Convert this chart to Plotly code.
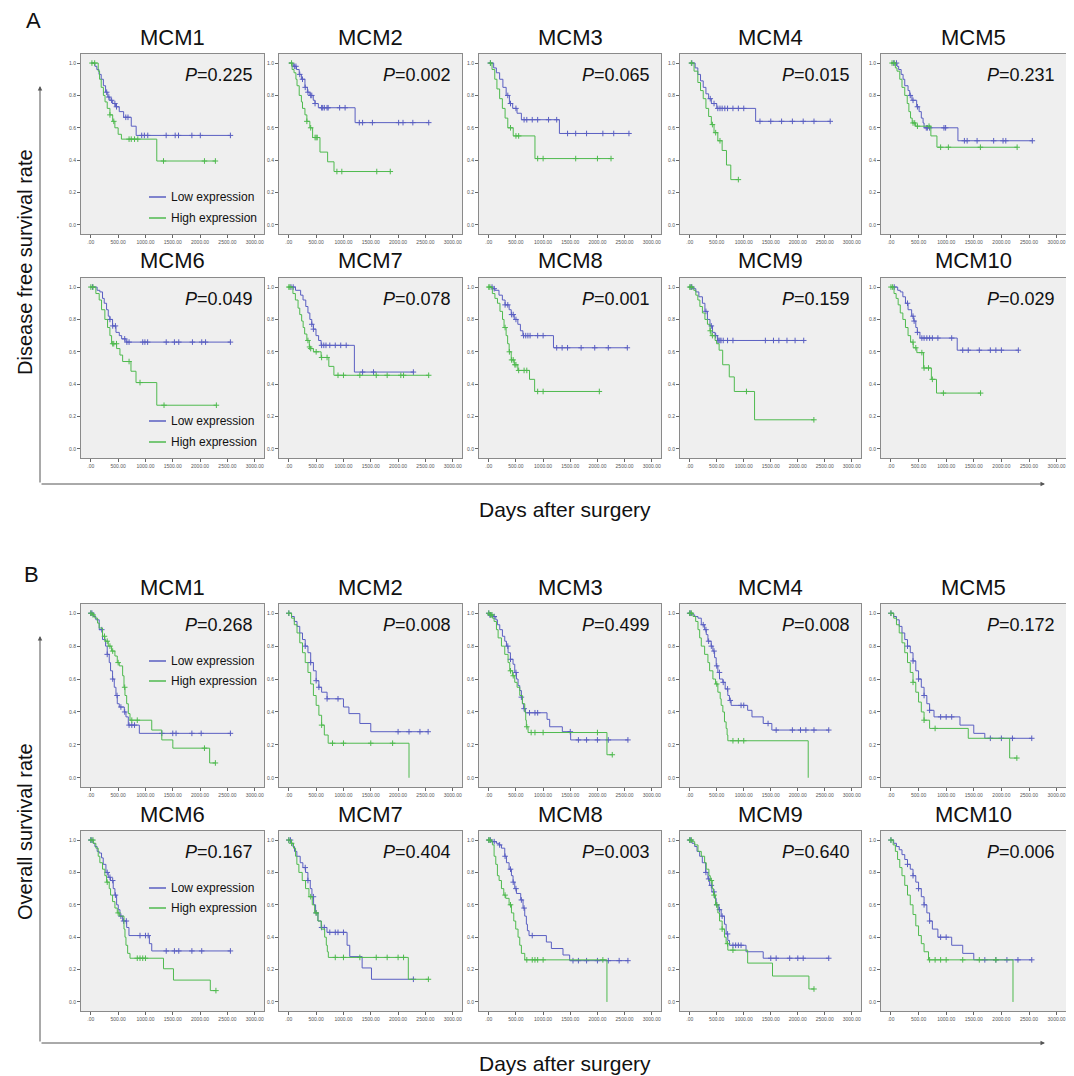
import numpy as np
import plotly.graph_objects as go

# page is rendered with an 8px body margin; the figure is sized/positioned to compensate
OFF = 8
W, H = 1074 - OFF, 1076 - OFF
FONT = "Liberation Sans, Arial, sans-serif"
BLUE = "#5a5fc2"
GREEN = "#4fba4f"

genes = ["MCM1", "MCM2", "MCM3", "MCM4", "MCM5", "MCM6", "MCM7", "MCM8", "MCM9", "MCM10"]
dfs_p = ["0.225", "0.002", "0.065", "0.015", "0.231", "0.049", "0.078", "0.001", "0.159", "0.029"]
os_p = ["0.268", "0.008", "0.499", "0.008", "0.172", "0.167", "0.404", "0.003", "0.640", "0.006"]
x_ticks = [0, 500, 1000, 1500, 2000, 2500, 3000]
x_tick_labels = [".00", "500.00", "1000.00", "1500.00", "2000.00", "2500.00", "3000.00"]
y_ticks = [0.0, 0.2, 0.4, 0.6, 0.8, 1.0]
y_tick_labels = ["0.0", "0.2", "0.4", "0.6", "0.8", "1.0"]
legend_labels = ["Low expression", "High expression"]

# ---- Disease free survival (A): [day, survival after drop]; censor days ----
dfs1_low = [[75, 0.98], [110, 0.96], [150, 0.93], [190, 0.90], [230, 0.86], [270, 0.82], [310, 0.79], [350, 0.77], [400, 0.75], [450, 0.73], [520, 0.70], [600, 0.665], [740, 0.61], [830, 0.553]]
dfs1_low_cens = [290, 330, 380, 440, 470, 640, 680, 931, 980, 1042, 1379, 1544, 1605, 1850, 2004, 2555]
dfs1_high = [[135, 0.95], [160, 0.90], [190, 0.85], [230, 0.80], [260, 0.76], [300, 0.72], [350, 0.68], [400, 0.64], [440, 0.60], [500, 0.56], [560, 0.53], [1207, 0.395]]
dfs1_high_cens = [20, 70, 350, 420, 700, 740, 800, 860, 1330, 2080, 2280]

dfs2_low = [[80, 0.98], [140, 0.96], [190, 0.93], [230, 0.90], [295, 0.85], [340, 0.82], [385, 0.80], [447, 0.77], [480, 0.75], [540, 0.724], [1213, 0.632]]
dfs2_low_cens = [100, 130, 200, 250, 300, 350, 400, 420, 480, 600, 620, 650, 700, 720, 930, 1030, 1290, 1350, 1530, 2010, 2090, 2270, 2561]
dfs2_high = [[60, 0.96], [95, 0.94], [130, 0.90], [150, 0.86], [190, 0.80], [230, 0.76], [250, 0.72], [295, 0.68], [330, 0.64], [385, 0.60], [435, 0.54], [570, 0.45], [710, 0.39], [827, 0.33]]
dfs2_high_cens = [50, 330, 400, 480, 500, 520, 880, 970, 1610, 1857]

dfs3_low = [[90, 0.97], [140, 0.94], [200, 0.90], [260, 0.85], [320, 0.80], [380, 0.75], [440, 0.72], [520, 0.69], [600, 0.65], [1300, 0.565]]
dfs3_low_cens = [30, 350, 400, 500, 650, 700, 800, 900, 1100, 1250, 1450, 1600, 1800, 2100, 2300, 2580]
dfs3_high = [[60, 0.96], [110, 0.90], [150, 0.84], [200, 0.78], [250, 0.72], [300, 0.66], [350, 0.60], [450, 0.55], [850, 0.41]]
dfs3_high_cens = [30, 400, 500, 550, 900, 1000, 1600, 2000, 2250]

dfs4_low = [[100, 0.97], [150, 0.93], [200, 0.89], [250, 0.85], [300, 0.81], [350, 0.78], [400, 0.75], [500, 0.72], [1220, 0.64]]
dfs4_low_cens = [40, 380, 450, 520, 560, 600, 650, 700, 800, 900, 1000, 1300, 1500, 1700, 1900, 2100, 2300, 2600]
dfs4_high = [[80, 0.95], [150, 0.88], [200, 0.83], [250, 0.78], [300, 0.72], [350, 0.67], [400, 0.62], [450, 0.57], [520, 0.52], [600, 0.46], [680, 0.37], [760, 0.28]]
dfs4_high_cens = [30, 420, 480, 560, 900]

dfs5_low = [[110, 0.98], [140, 0.96], [185, 0.93], [220, 0.90], [250, 0.86], [310, 0.83], [340, 0.80], [380, 0.77], [466, 0.73], [510, 0.70], [550, 0.66], [582, 0.63], [600, 0.60], [1213, 0.52]]
dfs5_low_cens = [50, 100, 350, 400, 480, 640, 660, 700, 960, 990, 1330, 1380, 1560, 1860, 2030, 2080, 2560]
dfs5_high = [[80, 0.97], [110, 0.95], [160, 0.90], [200, 0.85], [250, 0.80], [295, 0.75], [325, 0.70], [355, 0.66], [385, 0.63], [447, 0.61], [723, 0.55], [833, 0.48]]
dfs5_high_cens = [20, 60, 400, 430, 480, 690, 900, 1040, 1620, 2285]

dfs6_low = [[115, 0.98], [165, 0.97], [214, 0.93], [245, 0.90], [288, 0.86], [319, 0.82], [349, 0.80], [398, 0.76], [460, 0.72], [521, 0.70], [564, 0.68], [643, 0.66]]
dfs6_low_cens = [30, 350, 400, 450, 620, 660, 700, 950, 990, 1040, 1380, 1530, 1610, 1860, 2030, 2100, 2555]
dfs6_high = [[92, 0.96], [153, 0.92], [196, 0.86], [257, 0.80], [306, 0.75], [349, 0.70], [380, 0.65], [472, 0.62], [533, 0.58], [582, 0.54], [735, 0.48], [827, 0.41], [1207, 0.27]]
dfs6_high_cens = [0, 40, 400, 420, 470, 700, 900, 1340, 2298]

dfs7_low = [[122, 0.98], [216, 0.95], [260, 0.92], [310, 0.88], [350, 0.84], [385, 0.80], [420, 0.77], [450, 0.74], [497, 0.70], [545, 0.67], [591, 0.64], [1200, 0.475]]
dfs7_low_cens = [40, 80, 420, 450, 600, 640, 680, 750, 850, 950, 1050, 1350, 1550, 2280]
dfs7_high = [[75, 0.96], [120, 0.92], [169, 0.87], [200, 0.83], [235, 0.79], [262, 0.75], [290, 0.71], [330, 0.67], [375, 0.63], [400, 0.62], [450, 0.60], [591, 0.565], [732, 0.51], [825, 0.455]]
dfs7_high_cens = [0, 20, 350, 380, 400, 500, 600, 700, 900, 1000, 1300, 1600, 1800, 2050, 2100, 2560]

dfs8_low = [[65, 0.99], [113, 0.98], [188, 0.95], [250, 0.92], [300, 0.89], [375, 0.86], [413, 0.83], [469, 0.80], [535, 0.77], [582, 0.73], [628, 0.70], [1191, 0.625]]
dfs8_low_cens = [60, 100, 300, 350, 420, 450, 500, 640, 680, 720, 760, 900, 1000, 1250, 1350, 1450, 1700, 1950, 2200, 2550]
dfs8_high = [[66, 0.96], [113, 0.93], [160, 0.90], [206, 0.85], [253, 0.80], [281, 0.75], [319, 0.70], [347, 0.65], [375, 0.60], [413, 0.55], [469, 0.52], [535, 0.485], [750, 0.43], [844, 0.355]]
dfs8_high_cens = [0, 20, 300, 380, 420, 450, 480, 500, 550, 650, 700, 900, 1000, 2035]

dfs9_low = [[47, 0.99], [113, 0.97], [169, 0.94], [235, 0.90], [281, 0.85], [328, 0.80], [375, 0.76], [422, 0.72], [469, 0.70], [516, 0.67]]
dfs9_low_cens = [20, 40, 300, 400, 480, 520, 540, 560, 580, 620, 700, 800, 1400, 1550, 1650, 1800, 1950, 2110]
dfs9_high = [[75, 0.98], [113, 0.95], [150, 0.92], [188, 0.88], [235, 0.84], [281, 0.80], [328, 0.77], [375, 0.73], [394, 0.70], [469, 0.67], [497, 0.65], [544, 0.61], [610, 0.52], [732, 0.445], [825, 0.355], [1200, 0.18]]
dfs9_high_cens = [0, 30, 380, 420, 1050, 2298]

dfs10_low = [[122, 0.98], [169, 0.97], [216, 0.94], [263, 0.90], [310, 0.86], [375, 0.82], [413, 0.79], [450, 0.75], [478, 0.72], [525, 0.685], [1200, 0.61]]
dfs10_low_cens = [60, 300, 400, 420, 480, 560, 600, 650, 700, 750, 850, 1100, 1300, 1400, 1600, 1800, 1900, 2000, 2307]
dfs10_high = [[56, 0.96], [94, 0.93], [131, 0.89], [169, 0.84], [216, 0.80], [263, 0.75], [310, 0.70], [356, 0.66], [403, 0.625], [469, 0.595], [591, 0.50], [732, 0.43], [825, 0.345]]
dfs10_high_cens = [0, 30, 400, 450, 560, 600, 680, 750, 950, 1623]

# ---- Overall survival (B) ----
os1_low = [[43, 0.98], [92, 0.96], [153, 0.90], [214, 0.84], [270, 0.80], [300, 0.75], [337, 0.70], [361, 0.65], [398, 0.60], [429, 0.55], [460, 0.50], [484, 0.45], [521, 0.43], [613, 0.40], [643, 0.37], [686, 0.32], [888, 0.27]]
os1_low_cens = [0, 20, 200, 300, 400, 480, 550, 620, 700, 750, 800, 1300, 1500, 1560, 1850, 2020, 2555]
os1_high = [[31, 0.99], [74, 0.97], [123, 0.94], [153, 0.91], [214, 0.86], [257, 0.83], [319, 0.80], [380, 0.77], [441, 0.74], [484, 0.70], [521, 0.68], [582, 0.62], [607, 0.55], [625, 0.50], [656, 0.45], [686, 0.39], [717, 0.35], [1115, 0.29], [1299, 0.23], [1501, 0.18], [2175, 0.09]]
os1_high_cens = [0, 40, 250, 300, 350, 400, 500, 620, 750, 850, 2080, 2280]

os2_low = [[50, 0.98], [100, 0.95], [150, 0.92], [200, 0.88], [250, 0.84], [300, 0.80], [350, 0.76], [400, 0.70], [450, 0.65], [500, 0.59], [550, 0.55], [600, 0.52], [700, 0.48], [1000, 0.43], [1100, 0.39], [1300, 0.33], [1500, 0.28]]
os2_low_cens = [0, 300, 400, 500, 550, 700, 900, 2000, 2200, 2400, 2550]
os2_high = [[50, 0.97], [100, 0.93], [150, 0.88], [200, 0.82], [250, 0.76], [300, 0.70], [350, 0.64], [400, 0.57], [450, 0.50], [500, 0.44], [550, 0.38], [600, 0.32], [650, 0.26], [720, 0.21], [2200, 0.0]]
os2_high_cens = [0, 600, 800, 1000, 1500, 1900]

os3_low = [[18, 0.99], [80, 0.98], [129, 0.96], [159, 0.93], [202, 0.90], [251, 0.86], [294, 0.83], [325, 0.80], [355, 0.76], [398, 0.72], [447, 0.69], [478, 0.64], [509, 0.60], [539, 0.56], [570, 0.53], [600, 0.49], [619, 0.45], [643, 0.42], [674, 0.395], [1072, 0.355], [1121, 0.31], [1354, 0.28], [1507, 0.23]]
os3_low_cens = [0, 20, 40, 100, 350, 400, 500, 600, 650, 750, 850, 900, 1500, 1650, 1800, 2000, 2200, 2561]
os3_high = [[18, 0.99], [67, 0.97], [98, 0.95], [141, 0.90], [172, 0.85], [233, 0.80], [294, 0.75], [355, 0.70], [386, 0.65], [435, 0.62], [478, 0.58], [521, 0.55], [570, 0.50], [619, 0.45], [662, 0.40], [680, 0.35], [692, 0.31], [723, 0.275], [2175, 0.14]]
os3_high_cens = [0, 30, 60, 400, 450, 700, 780, 850, 1000, 2000, 2273]

os4_low = [[31, 0.99], [92, 0.98], [153, 0.97], [214, 0.93], [276, 0.90], [306, 0.87], [337, 0.83], [398, 0.80], [429, 0.77], [460, 0.73], [490, 0.68], [521, 0.64], [551, 0.60], [613, 0.58], [656, 0.54], [705, 0.50], [735, 0.47], [766, 0.44], [1072, 0.41], [1152, 0.37], [1360, 0.33], [1520, 0.29]]
os4_low_cens = [0, 20, 250, 300, 350, 400, 450, 500, 550, 620, 700, 750, 950, 1000, 1450, 1600, 1900, 2050, 2150, 2300, 2573]
os4_high = [[61, 0.98], [110, 0.95], [153, 0.90], [184, 0.85], [214, 0.80], [276, 0.75], [337, 0.70], [368, 0.65], [429, 0.60], [478, 0.57], [521, 0.52], [564, 0.48], [582, 0.44], [613, 0.40], [643, 0.34], [674, 0.30], [692, 0.26], [705, 0.225], [2193, 0.0]]
os4_high_cens = [0, 30, 500, 800, 900, 1000]

os5_low = [[50, 0.98], [100, 0.96], [150, 0.92], [200, 0.88], [250, 0.84], [300, 0.80], [350, 0.76], [400, 0.71], [450, 0.65], [500, 0.60], [550, 0.55], [600, 0.50], [650, 0.45], [700, 0.41], [780, 0.37], [1250, 0.32], [1500, 0.27], [1700, 0.24]]
os5_low_cens = [0, 300, 400, 500, 600, 700, 900, 1000, 1100, 1800, 2000, 2200, 2550]
os5_high = [[50, 0.97], [100, 0.93], [150, 0.88], [200, 0.82], [250, 0.76], [300, 0.70], [350, 0.64], [400, 0.58], [450, 0.52], [500, 0.46], [550, 0.40], [600, 0.35], [700, 0.30], [1400, 0.24], [2150, 0.12]]
os5_high_cens = [0, 400, 600, 800, 2280]

os6_low = [[43, 0.98], [74, 0.96], [116, 0.93], [153, 0.92], [196, 0.89], [227, 0.85], [276, 0.80], [319, 0.77], [361, 0.75], [410, 0.70], [441, 0.66], [472, 0.60], [502, 0.57], [533, 0.53], [582, 0.50], [656, 0.46], [698, 0.41], [1072, 0.36], [1115, 0.315]]
os6_low_cens = [0, 20, 300, 350, 400, 450, 550, 600, 650, 900, 1000, 1050, 1380, 1530, 1610, 1850, 2030, 2555]
os6_high = [[43, 0.98], [92, 0.95], [135, 0.90], [165, 0.86], [214, 0.82], [257, 0.78], [288, 0.74], [337, 0.70], [361, 0.66], [398, 0.62], [441, 0.58], [484, 0.55], [521, 0.53], [607, 0.45], [625, 0.40], [643, 0.35], [674, 0.30], [717, 0.27], [1330, 0.205], [1513, 0.135], [2187, 0.07]]
os6_high_cens = [0, 40, 300, 500, 850, 900, 950, 1000, 2290]

os7_low = [[43, 0.98], [74, 0.96], [104, 0.93], [147, 0.90], [208, 0.86], [257, 0.83], [306, 0.80], [349, 0.75], [392, 0.70], [423, 0.65], [453, 0.60], [490, 0.55], [533, 0.50], [594, 0.46], [698, 0.43], [1066, 0.35], [1115, 0.28], [1342, 0.21], [1513, 0.14]]
os7_low_cens = [0, 30, 300, 350, 450, 500, 600, 650, 750, 850, 900, 1000, 2280]
os7_high = [[43, 0.98], [86, 0.95], [123, 0.90], [147, 0.85], [184, 0.80], [245, 0.75], [306, 0.70], [368, 0.65], [429, 0.60], [472, 0.55], [533, 0.50], [594, 0.45], [656, 0.40], [686, 0.35], [705, 0.31], [723, 0.275], [2187, 0.14]]
os7_high_cens = [0, 50, 400, 500, 850, 1000, 1300, 1600, 1800, 2000, 2100, 2555]

os8_low = [[49, 0.99], [141, 0.98], [190, 0.97], [233, 0.95], [294, 0.90], [325, 0.86], [374, 0.82], [417, 0.78], [447, 0.74], [478, 0.70], [509, 0.67], [588, 0.63], [631, 0.58], [662, 0.53], [692, 0.48], [711, 0.44], [741, 0.41], [1060, 0.37], [1152, 0.33], [1366, 0.29], [1489, 0.255]]
os8_low_cens = [0, 30, 100, 200, 300, 400, 450, 500, 600, 650, 800, 1550, 1650, 1800, 2000, 2200, 2400, 2561]
os8_high = [[31, 0.99], [67, 0.97], [98, 0.90], [129, 0.85], [159, 0.78], [190, 0.75], [233, 0.70], [276, 0.66], [312, 0.64], [374, 0.60], [417, 0.55], [460, 0.50], [496, 0.45], [539, 0.40], [570, 0.35], [600, 0.30], [662, 0.26], [2175, 0.0]]
os8_high_cens = [0, 20, 300, 400, 700, 800, 850, 900, 1000, 2100]

os9_low = [[43, 0.98], [92, 0.96], [135, 0.93], [184, 0.90], [233, 0.86], [294, 0.80], [337, 0.76], [368, 0.72], [410, 0.68], [460, 0.64], [490, 0.60], [539, 0.57], [582, 0.53], [643, 0.48], [674, 0.42], [705, 0.38], [735, 0.35], [1042, 0.31], [1360, 0.27]]
os9_low_cens = [0, 20, 300, 350, 400, 450, 500, 550, 600, 700, 800, 850, 900, 950, 1500, 1600, 1850, 2000, 2100, 2573]
os9_high = [[31, 0.99], [92, 0.97], [153, 0.93], [214, 0.90], [276, 0.86], [306, 0.82], [355, 0.78], [380, 0.75], [417, 0.70], [441, 0.66], [478, 0.60], [521, 0.55], [551, 0.50], [600, 0.45], [643, 0.40], [674, 0.36], [705, 0.32], [1072, 0.24], [1532, 0.16], [2206, 0.08]]
os9_high_cens = [0, 30, 400, 450, 500, 600, 700, 800, 2300]

os10_low = [[50, 0.98], [100, 0.96], [150, 0.94], [200, 0.91], [250, 0.88], [300, 0.85], [350, 0.82], [400, 0.78], [450, 0.74], [500, 0.70], [550, 0.65], [600, 0.60], [650, 0.55], [700, 0.50], [750, 0.45], [850, 0.40], [1100, 0.35], [1300, 0.30], [1500, 0.26]]
os10_low_cens = [0, 300, 400, 500, 600, 700, 900, 1000, 1700, 1900, 2100, 2300, 2550]
os10_high = [[40, 0.97], [80, 0.93], [120, 0.88], [160, 0.83], [200, 0.78], [250, 0.72], [300, 0.66], [350, 0.60], [400, 0.54], [450, 0.47], [500, 0.41], [550, 0.36], [600, 0.31], [680, 0.26], [2210, 0.0]]
os10_high_cens = [0, 700, 800, 900, 1000, 1300, 1600, 1900]

dfs_low = [dfs1_low, dfs2_low, dfs3_low, dfs4_low, dfs5_low, dfs6_low, dfs7_low, dfs8_low, dfs9_low, dfs10_low]
dfs_low_cens = [dfs1_low_cens, dfs2_low_cens, dfs3_low_cens, dfs4_low_cens, dfs5_low_cens, dfs6_low_cens, dfs7_low_cens, dfs8_low_cens, dfs9_low_cens, dfs10_low_cens]
dfs_high = [dfs1_high, dfs2_high, dfs3_high, dfs4_high, dfs5_high, dfs6_high, dfs7_high, dfs8_high, dfs9_high, dfs10_high]
dfs_high_cens = [dfs1_high_cens, dfs2_high_cens, dfs3_high_cens, dfs4_high_cens, dfs5_high_cens, dfs6_high_cens, dfs7_high_cens, dfs8_high_cens, dfs9_high_cens, dfs10_high_cens]
os_low = [os1_low, os2_low, os3_low, os4_low, os5_low, os6_low, os7_low, os8_low, os9_low, os10_low]
os_low_cens = [os1_low_cens, os2_low_cens, os3_low_cens, os4_low_cens, os5_low_cens, os6_low_cens, os7_low_cens, os8_low_cens, os9_low_cens, os10_low_cens]
os_high = [os1_high, os2_high, os3_high, os4_high, os5_high, os6_high, os7_high, os8_high, os9_high, os10_high]
os_high_cens = [os1_high_cens, os2_high_cens, os3_high_cens, os4_high_cens, os5_high_cens, os6_high_cens, os7_high_cens, os8_high_cens, os9_high_cens, os10_high_cens]

# ---------------- layout geometry (screen pixels) ----------------
cols = [(81, 264), (279, 462), (479, 661), (680, 861), (881, 1066)]
rows = [(54, 234), (278, 458), (604, 787), (831, 1011)]
XR = [-180, 3170]
YR = [-0.056, 1.056]


def px(x):
    return (x - OFF) / W


def py(y):
    return 1 - (y - OFF) / H


def km(steps, cens):
    t = [0] + [p[0] for p in steps]
    s = [1.0] + [p[1] for p in steps]
    end = max([t[-1]] + list(cens))
    x = t + [end]
    y = s + [s[-1]]
    ta = np.array(t)
    cy = [s[int(np.searchsorted(ta, c, side="right")) - 1] for c in cens]
    return x, y, cy


fig = go.Figure()
annotations = []
shapes = []
layout_axes = {}

sections = [
    (dfs_low, dfs_low_cens, dfs_high, dfs_high_cens, dfs_p),
    (os_low, os_low_cens, os_high, os_high_cens, os_p),
]

for si, (lo, loc, hi, hic, pv) in enumerate(sections):
    for g in range(10):
        k = si * 10 + g
        n = k + 1
        r = si * 2 + g // 5
        c = g % 5
        L, R = cols[c]
        T, B = rows[r]
        xa = "x" if n == 1 else f"x{n}"
        ya = "y" if n == 1 else f"y{n}"
        xkey = "xaxis" if n == 1 else f"xaxis{n}"
        ykey = "yaxis" if n == 1 else f"yaxis{n}"
        layout_axes[xkey] = dict(
            domain=[px(L), px(R)], range=XR, anchor=ya,
            tickvals=x_ticks, ticktext=x_tick_labels, ticks="outside", ticklen=3,
            tickcolor="#666", tickfont=dict(size=5, color="#555", family=FONT),
            showline=True, linecolor="#8a8a8a", linewidth=1, mirror=True,
            showgrid=False, zeroline=False,
        )
        layout_axes[ykey] = dict(
            domain=[py(B), py(T)], range=YR, anchor=xa,
            tickvals=y_ticks, ticktext=y_tick_labels, ticks="outside", ticklen=3,
            tickcolor="#666", tickfont=dict(size=5, color="#555", family=FONT),
            showline=True, linecolor="#8a8a8a", linewidth=1, mirror=True,
            showgrid=False, zeroline=False,
        )
        for steps, cens, col in ((lo[g], loc[g], BLUE), (hi[g], hic[g], GREEN)):
            x, y, cy = km(steps, cens)
            fig.add_trace(go.Scatter(x=x, y=y, mode="lines", line=dict(color=col, width=1, shape="hv"),
                                     xaxis=xa, yaxis=ya, showlegend=False, hoverinfo="skip"))
            fig.add_trace(go.Scatter(x=cens, y=cy, mode="markers",
                                     marker=dict(symbol="cross-thin-open", size=4, color=col,
                                                 line=dict(color=col, width=1)),
                                     xaxis=xa, yaxis=ya, showlegend=False, hoverinfo="skip"))
        # gene title
        annotations.append(dict(text=genes[g], x=px((L + R) / 2), y=py(T - 17), xref="paper", yref="paper",
                                showarrow=False, font=dict(size=22, color="#111", family=FONT),
                                xanchor="center", yanchor="middle"))
        # P value
        annotations.append(dict(text=f"<i>P</i>={pv[g]}", x=1 - 9 / (R - L), y=1 - 21 / (B - T),
                                xref=f"{xa} domain", yref=f"{ya} domain", showarrow=False,
                                font=dict(size=18, color="#111", family=FONT), xanchor="right", yanchor="middle"))
        # legends in MCM1 and MCM6 panels
        if g in (0, 5):
            if si == 0:
                ly = [B - T - 37, B - T - 16]
            else:
                ly = [57, 77]
            for li, (lab, col) in enumerate(zip(legend_labels, (BLUE, GREEN))):
                yy = 1 - ly[li] / (B - T)
                shapes.append(dict(type="line", xref=f"{xa} domain", yref=f"{ya} domain",
                                   x0=68 / (R - L), x1=85 / (R - L), y0=yy, y1=yy,
                                   line=dict(color=col, width=1.5)))
                annotations.append(dict(text=lab, x=88 / (R - L), y=yy, xref=f"{xa} domain", yref=f"{ya} domain",
                                        showarrow=False, xanchor="left", yanchor="middle",
                                        font=dict(size=12, color="#111", family=FONT)))

# outer axes with arrows (pixel offsets for arrow tails)
for (top_tip, base_y) in ((86, 484), (636, 1043)):
    annotations.append(dict(x=px(40), y=py(top_tip), ax=0, ay=base_y - top_tip, xref="paper", yref="paper",
                            text="", showarrow=True, arrowhead=2,
                            arrowsize=0.9, arrowwidth=1, arrowcolor="#555"))
    annotations.append(dict(x=px(1045), y=py(base_y), ax=-(1045 - 40), ay=0, xref="paper", yref="paper",
                            text="", showarrow=True, arrowhead=2,
                            arrowsize=0.9, arrowwidth=1, arrowcolor="#555"))


def label(text, x, y, size, angle=0):
    return dict(text=text, x=px(x), y=py(y), xref="paper", yref="paper", showarrow=False,
                xanchor="center", yanchor="middle", textangle=angle,
                font=dict(size=size, color="#111", family=FONT))


annotations += [
    label("A", 33, 21, 22),
    label("B", 31, 574, 22),
    label("Disease free survival rate", 25, 262, 20, -90),
    label("Overall survival rate", 25, 832, 20, -90),
    label("Days after surgery", 565, 510, 21),
    label("Days after surgery", 565, 1063, 21),
]

fig.update_layout(
    width=W, height=H, margin=dict(l=0, r=0, t=0, b=0),
    paper_bgcolor="white", plot_bgcolor="#efefef",
    annotations=annotations, shapes=shapes, showlegend=False,
    **layout_axes,
)

fig.write_html("out.html")
